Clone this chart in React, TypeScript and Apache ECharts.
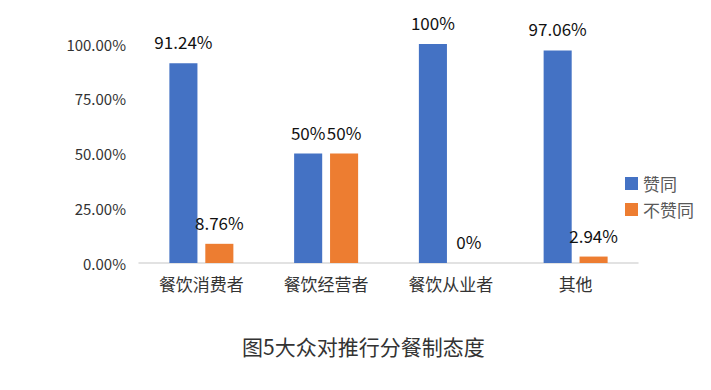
import React, { useEffect, useRef } from "react";
import * as echarts from "echarts";

const categories = ["餐饮消费者", "餐饮经营者", "餐饮从业者", "其他"];
const agree = [91.24, 50, 100, 97.06];
const disagree = [8.76, 50, 0, 2.94];
const seriesNames = ["赞同", "不赞同"];
const titleText = "图5大众对推行分餐制态度";

const FONT = "'Noto Sans CJK SC', 'Noto Sans', sans-serif";

export default function App() {
  const ref = useRef<HTMLDivElement>(null);
  useEffect(() => {
    if (!ref.current) return;
    const chart = echarts.init(ref.current, undefined, { renderer: "svg" });
    const label = {
      show: true,
      position: "top" as const,
      distance: 13,
      fontSize: 17,
      color: "#111",
      fontFamily: FONT,
      formatter: (p: any) => p.value + "%",
    };
    chart.setOption({
      animation: false,
      backgroundColor: "#fff",
      textStyle: { fontFamily: FONT },
      title: {
        text: titleText,
        left: 237,
        top: 330,
        textStyle: { fontSize: 21, fontWeight: "normal", color: "#333", fontFamily: FONT },
      },
      legend: {
        orient: "vertical",
        left: 620,
        top: 170,
        itemWidth: 13,
        itemHeight: 13,
        itemGap: 9,
        icon: "rect",
        textStyle: { fontSize: 17, color: "#595959", fontFamily: FONT },
        data: seriesNames,
      },
      grid: { left: 139, right: 73, top: 44, bottom: 127 },
      xAxis: {
        type: "category",
        data: categories,
        axisLine: { lineStyle: { color: "#d9d9d9", width: 1.5 } },
        axisTick: { show: false },
        axisLabel: { fontSize: 17, color: "#333", margin: 12, fontFamily: FONT },
      },
      yAxis: {
        type: "value",
        min: 0,
        max: 100,
        interval: 25,
        axisLine: { show: false },
        axisTick: { show: false },
        splitLine: { show: false },
        axisLabel: {
          fontSize: 15,
          color: "#333",
          margin: 13,
          fontFamily: FONT,
          formatter: (v: number) => v.toFixed(2) + "%",
        },
      },
      series: [
        {
          name: seriesNames[0],
          type: "bar",
          data: agree,
          itemStyle: { color: "#4472C4" },
          barGap: "28%",
          barCategoryGap: "48.7%",
          label,
        },
        {
          name: seriesNames[1],
          type: "bar",
          data: disagree,
          itemStyle: { color: "#ED7D31" },
          barGap: "28%",
          barCategoryGap: "48.7%",
          label,
        },
      ],
    });
    return () => chart.dispose();
  }, []);
  return (
    <div
      ref={ref}
      style={{ position: "fixed", left: 0, top: 0, width: 711, height: 390 }}
    />
  );
}
